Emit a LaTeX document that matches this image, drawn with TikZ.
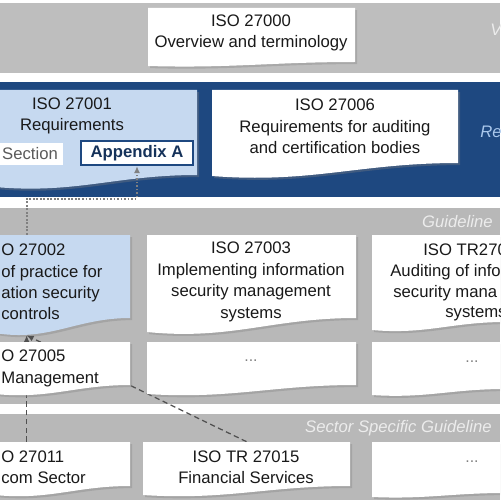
\documentclass[tikz,border=0pt]{standalone}
\usepackage{fontspec}
\setmainfont{Liberation Sans}
\usetikzlibrary{shadows,fit,calc,arrows.meta}
\definecolor{bandgray}{RGB}{190,190,190}
\definecolor{midgray}{RGB}{184,184,184}
\definecolor{navy}{RGB}{30,72,128}
\definecolor{lblue}{RGB}{198,217,240}
\definecolor{txtc}{RGB}{25,25,25}
\definecolor{relbl}{RGB}{170,200,236}
\definecolor{conn}{RGB}{80,80,80}
\definecolor{secgray}{RGB}{90,90,90}
\definecolor{hdrtxt}{RGB}{236,236,236}
\newcommand{\docshape}[6]{%
  \fill[#6, drop shadow={shadow xshift=1.2pt, shadow yshift=-1.2pt, opacity=0.35}]
    (#1,#2) -- (#3,#2) -- (#3,{#4-#5})
    .. controls ({#1+0.6*(#3-(#1))},{#4-#5}) and ({#1+0.4*(#3-(#1))},{#4+0.6*#5}) .. (#1,#4) -- cycle;
}
\begin{document}
\begin{tikzpicture}[x=0.02cm,y=-0.02cm,
  txt/.style={font=\fontsize{9.5}{12.2}\selectfont, text=txtc, inner sep=0pt, align=center},
  hdr/.style={font=\fontsize{9.5}{12.2}\selectfont\itshape, text=hdrtxt, inner sep=0pt},
  boxarea/.style={inner sep=0pt, draw=none},
  dashconn/.style={draw=conn, dash pattern=on 3pt off 2pt, line width=0.7pt, -{Latex[length=4pt,width=3.5pt]}},
  dotconn/.style={draw=gray, densely dotted, line width=1pt, -{Latex[length=4pt,width=3.5pt]}},
  dots/.style={font=\fontsize{9}{10}\selectfont, text=gray, inner sep=0pt}]
\useasboundingbox (0,0) rectangle (500,500);
\clip (0,0) rectangle (500,500);
\fill[white] (0,0) rectangle (500,500);
% bands
\fill[bandgray] (0,3) rectangle (500,73);
\fill[navy] (0,82) rectangle (500,197);
\fill[midgray] (0,208) rectangle (500,404);
\fill[midgray] (0,414) rectangle (500,500);
% named box areas
\node[boxarea, fit={(148,8) (355,66)}] (b27000) {};
\node[boxarea, fit={(-5,90) (197,187)}] (b27001) {};
\node[boxarea, fit={(212,90) (458,176)}] (b27006) {};
\node[boxarea, fit={(-5,235) (130,333)}] (b27002) {};
\node[boxarea, fit={(147,235) (356,332)}] (b27003) {};
\node[boxarea, fit={(372,235) (505,330)}] (b27008) {};
\node[boxarea, fit={(-5,342) (130,394)}] (b27005) {};
\node[boxarea, fit={(147,342) (356,394)}] (bdotsA) {};
\node[boxarea, fit={(372,342) (505,395)}] (bdotsB) {};
\node[boxarea, fit={(-5,442) (130,495)}] (b27011) {};
\node[boxarea, fit={(143,442) (350,495)}] (b27015) {};
\node[boxarea, fit={(372,442) (505,497)}] (bdotsC) {};
% top boxes
\docshape{148}{8}{355}{66}{4}{white}
\docshape{-5}{90}{197}{187}{12}{lblue}
\docshape{212}{90}{458}{176}{13}{white}
\node[fill=white, inner sep=0pt, fit={(-5,143) (63,165)}] (sec) {};
\node[draw=navy, line width=1.3pt, fill=white, inner sep=0pt, fit={(81,141) (193,165)}] (appA) {};
% guideline row 1
\docshape{-5}{235}{130}{333}{15}{lblue}
\docshape{147}{235}{356}{332}{14}{white}
\docshape{372}{235}{505}{330}{8}{white}
% dashed connectors (behind lower boxes)
\draw[dashconn] (b27015.north) -- ($(b27002.south west)+(32,2)$);
\draw[dashconn] ($(b27011.north west)+(32,0)$) -- ($(b27002.south west)+(32,2)$);
% guideline row 2
\docshape{-5}{342}{130}{394}{9}{white}
\docshape{147}{342}{356}{394}{9}{white}
\docshape{372}{342}{505}{395}{6}{white}
% sector row
\docshape{-5}{442}{130}{495}{9}{white}
\docshape{143}{442}{350}{495}{9}{white}
\docshape{372}{442}{505}{497}{4}{white}
% dotted connector
\draw[dotconn] ($(b27002.north west)+(32,0)$) -- ++(0,-36) -| (appA.south);
% texts
\node[txt] (t27000) at (251,33) {ISO 27000\\Overview and terminology};
\node[txt] (t27001) at (72,116) {ISO 27001\\Requirements};
\node[txt, text=secgray] (tsec) at (30,154) {Section};
\node[txt, font=\fontsize{9.5}{12.2}\selectfont\bfseries, text=navy!70!black] (tappA) at (137,153) {Appendix A};
\node[txt] (t27006) at (335,126.5) {ISO 27006\\Requirements for auditing\\and certification bodies};
\node[txt, align=left, anchor=west] (t27002) at (1,282) {O 27002\\of practice for\\ation security\\controls};
\node[txt] (t27003) at (251,282) {ISO 27003\\Implementing information\\security management\\systems};
\node[txt, anchor=west] (t8a) at (423,250) {ISO TR270};
\node[txt, anchor=west] (t8b) at (390,272) {Auditing of info};
\node[txt, anchor=west] (t8c) at (393,293) {security mana};
\node[txt, anchor=west] (t8d) at (445,314) {systems};
\node[txt, align=left, anchor=west] (t27005) at (1,368.5) {O 27005\\Management};
\node[dots] (tdA) at (251,361) {...};
\node[dots] (tdB) at (472,362) {...};
\node[txt, align=left, anchor=west] (t27011) at (1,467) {O 27011\\com Sector};
\node[txt] (t27015) at (246,467) {ISO TR 27015\\Financial Services};
\node[dots] (tdC) at (472,462) {...};
% band labels
\node[hdr, anchor=west] (hV) at (490,30) {V};
\node[hdr, anchor=west, text=relbl] (hR) at (480,132) {Re};
\node[hdr, anchor=east] (hG) at (493,222) {Guideline};
\node[hdr, anchor=east] (hS) at (492,428) {Sector Specific Guideline};
\end{tikzpicture}
\end{document}
